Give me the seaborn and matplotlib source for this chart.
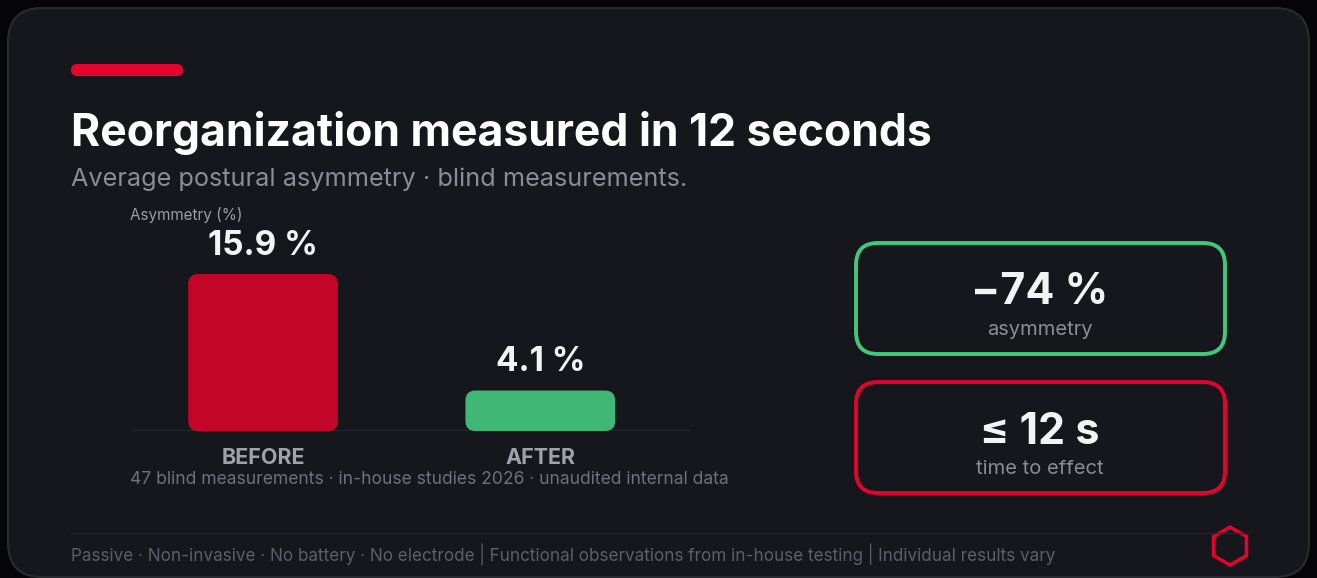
import matplotlib
matplotlib.use("Agg")
import matplotlib.pyplot as plt
from matplotlib.patches import FancyBboxPatch, RegularPolygon
import seaborn as sns
import pandas as pd

# data
categories = ["BEFORE", "AFTER"]
asymmetry = [15.9, 4.1]
bar_colors = ["#c30628", "#3fb875"]
stat_values = ["\u221274 %", "\u2264 12 s"]
stat_labels = ["asymmetry", "time to effect"]
stat_colors = ["#3fc97a", "#e4032e"]

title = "Reorganization measured in 12 seconds"
subtitle = "Average postural asymmetry \u00b7 blind measurements."
y_label = "Asymmetry (%)"
note = "47 blind measurements \u00b7 in-house studies 2026 \u00b7 unaudited internal data"
footer = ("Passive \u00b7 Non-invasive \u00b7 No battery \u00b7 No electrode | "
          "Functional observations from in-house testing | Individual results vary")

sns.set_theme(style="dark")
plt.rcParams["font.family"] = ["Inter", "DejaVu Sans"]

W, H = 1317, 578
fig = plt.figure(figsize=(W / 100, H / 100), dpi=100)
fig.patch.set_facecolor("#050507")

# background canvas in pixel coords
bg = fig.add_axes([0, 0, 1, 1])
bg.set_xlim(0, W)
bg.set_ylim(H, 0)
bg.axis("off")
bg.add_patch(FancyBboxPatch((8, 8), W - 16, H - 9, boxstyle="round,pad=0,rounding_size=34",
                            fc="#16171c", ec="#2a2b31", lw=1.5))
bg.add_patch(FancyBboxPatch((71, 64), 112, 12, boxstyle="round,pad=0,rounding_size=6",
                            fc="#e4032e", ec="none"))
bg.text(71, 133, title, fontsize=32, fontweight="bold", color="white", va="center")
bg.text(71, 179, subtitle, fontsize=18.2, color="#8b8d96", va="center")
bg.text(130, 215, y_label, fontsize=11, color="#9a9ca5", va="center")
bg.text(130, 479, note, fontsize=12.6, color="#6f717a", va="center")

# stat boxes
for i, (val, lab, col) in enumerate(zip(stat_values, stat_labels, stat_colors)):
    top = 243 + i * 139
    bg.add_patch(FancyBboxPatch((856, top), 369, 111, boxstyle="round,pad=0,rounding_size=22",
                                fc="none", ec=col, lw=2.8))
    bg.text(1040, top + 50, val, fontsize=31, fontweight="bold", color="#f3f3f5",
            ha="center", va="center")
    bg.text(1040, top + 87, lab, fontsize=14.5, color="#8b8d96", ha="center", va="center")

# footer
bg.plot([71, 1250], [533, 533], color="#24252b", lw=1)
bg.text(71, 554, footer, fontsize=12.3, color="#5d5f68", va="center")
bg.add_patch(RegularPolygon((1230, 546), numVertices=6, radius=19, orientation=0,
                            fc="none", ec="#e4032e", lw=2.5))

# bar chart
ax_w, ax_h = 560, 191
xlim, ylim = (-0.48, 1.54), (0, 19.35)
ax = fig.add_axes([130 / W, 1 - 431 / H, ax_w / W, ax_h / H])
ax.set_facecolor("none")
df = pd.DataFrame({"phase": categories, "value": asymmetry})
sns.barplot(data=df, x="phase", y="value", hue="phase", palette=bar_colors,
            saturation=1, width=0.54, legend=False, ax=ax)
ax.set_xlim(*xlim)
ax.set_ylim(*ylim)

# swap square bars for rounded ones (10 px corners)
x_per_px = (xlim[1] - xlim[0]) / ax_w
y_per_px = (ylim[1] - ylim[0]) / ax_h
for p in list(ax.patches):
    x0, y0, w, h = p.get_x(), p.get_y(), p.get_width(), p.get_height()
    col = p.get_facecolor()
    p.remove()
    ax.add_patch(FancyBboxPatch((x0, y0), w, h,
                                boxstyle=f"round,pad=0,rounding_size={10 * x_per_px}",
                                mutation_aspect=y_per_px / x_per_px,
                                fc=col, ec="none", clip_on=False))
    ax.text(x0 + w / 2, h + 1.25, f"{h:.1f} %", ha="center", va="bottom",
            fontsize=24, fontweight="bold", color="#f3f3f5")
ax.axhline(0, color="#2a2b31", lw=1.2, zorder=0)
ax.set_xticks(range(len(categories)))
ax.set_xticklabels(categories, fontsize=15.5, fontweight="bold", color="#a0a1ab")
ax.tick_params(axis="x", length=0, pad=12)
ax.set_yticks([])
ax.set_xlabel("")
ax.set_ylabel("")
ax.grid(False)
for s in ax.spines.values():
    s.set_visible(False)

fig.savefig("out.png", dpi=100, facecolor=fig.get_facecolor())
